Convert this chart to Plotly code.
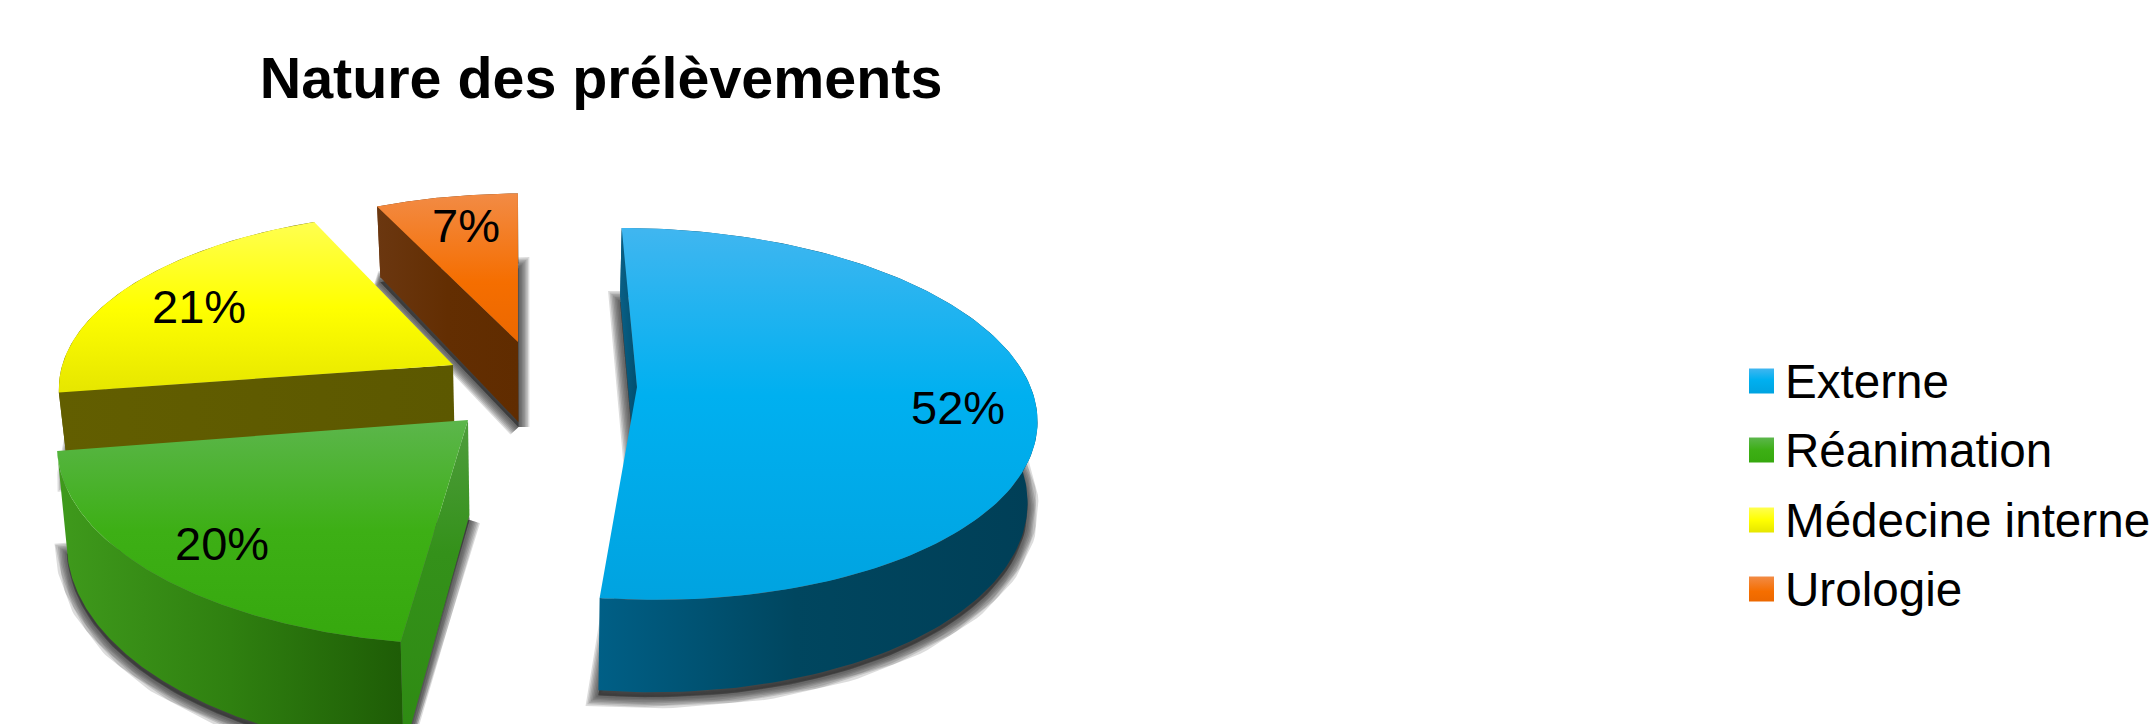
import numpy as np
import plotly.graph_objects as go

# Share of samples per department, in percent
categories = ["Externe", "Réanimation", "Médecine interne", "Urologie"]
values = [52, 20, 21, 7]

WIDTH, HEIGHT = 2152, 724

# Projection of the tilted disc
VANISH_X = 540      # x towards which depth converges
PERSP = 0.145       # perspective strength
BASE_SHRINK = 0.98  # the lower face sits a little further from the viewer
ROTATION = -0.5     # angle of the first slice, degrees clockwise from north
SHADOW_DROP = 5     # downward offset of the drop shadow

# Exploded placement of each slice:
# apex x, apex y, x radius, y radius, thickness, roll
placement = {
    "Externe": (637, 387, 394, 182, 79, 1),
    "Réanimation": (468, 420, 405, 192, 95, 8),
    "Médecine interne": (453, 365, 388, 175, 80, 8),
    "Urologie": (518, 342, 374, 170, 80, 0),
}

# Gradients: top face (north to south), outer wall (west to east), cut wall
top_colors = {
    "Externe": [(0, "#40B6F0"), (0.45, "#00B0F0"), (1, "#00A3E0")],
    "Réanimation": [(0, "#5CB64C"), (0.5, "#3DAF15"), (1, "#36A80E")],
    "Médecine interne": [(0, "#FFFF50"), (0.5, "#FFFF00"), (1, "#E6E600")],
    "Urologie": [(0, "#F28B45"), (0.6, "#F56E00"), (1, "#EC6800")],
}
wall_colors = {
    "Externe": [(0, "#005F86"), (0.45, "#00465F"), (1, "#003F57")],
    "Réanimation": [(0, "#3F9A1C"), (0.5, "#2F8010"), (1, "#1E5C06")],
    "Médecine interne": [(0, "#5E5A00"), (1, "#5E5A00")],
    "Urologie": [(0, "#6B3710"), (1, "#602C00")],
}
cut_colors = {
    "Externe": [(0, "#0A5F85"), (1, "#004F70")],
    "Réanimation": [(0, "#4F9D3D"), (0.4, "#34911A"), (1, "#2E8A12")],
    "Médecine interne": [(0, "#625E00"), (1, "#5C5800")],
    "Urologie": [(0, "#6B3710"), (0.5, "#632E02"), (1, "#602C00")],
}

legend_y = [381, 450, 520, 589]
value_label_xy = {
    "Externe": (958, 407),
    "Réanimation": (222, 543),
    "Médecine interne": (199, 306),
    "Urologie": (466, 225),
}


def project(name, theta, radius, lower=False):
    """Map polar disc coordinates of one slice to the page."""
    ax, ay, rx, ry, thick, roll = placement[name]
    big_x = radius * np.sin(theta)
    big_z = radius * np.cos(theta)
    denom = 1 + PERSP * big_z
    x = VANISH_X + (ax - VANISH_X + rx * big_x) / denom
    y = ay - ry * big_z / denom + roll * big_x
    if lower:
        x = VANISH_X + (x - VANISH_X) * BASE_SHRINK
        y = y + thick / denom
    return x, y


def polygon(name, th, lower=False):
    """Closed outline of a slice face: apex plus its outer arc."""
    ax, ay = project(name, np.array([0.0]), 0.0, lower)
    ox, oy = project(name, th, 1.0, lower)
    return np.r_[ax, ox, ax], np.r_[ay, oy, ay]


def add_fill(fig, x, y, stops, kind):
    # The y axis runs downwards, so north-to-south stops are flipped for vertical fills
    if kind == "vertical":
        stops = [(1 - p, c) for p, c in reversed(stops)]
    fig.add_trace(go.Scatter(
        x=x, y=y, mode="lines", fill="toself", line=dict(width=0),
        fillgradient=dict(type=kind, colorscale=[list(s) for s in stops]),
        hoverinfo="skip", showlegend=False,
    ))


fig = go.Figure()

# Angular extent of each slice, accumulated from the values
total = sum(values)
edges = np.deg2rad(ROTATION + np.cumsum([0] + values) / total * 360)
spans = {c: (edges[i], edges[i + 1]) for i, c in enumerate(categories)}

# Painter's order: rear slices first
for name in ["Urologie", "Médecine interne", "Réanimation", "Externe"]:
    t0, t1 = spans[name]
    th = np.linspace(t0, t1, 160)

    # Soft drop shadow around the lower face
    bx, by = polygon(name, th, lower=True)
    for w in (22, 19, 16, 13, 10, 7, 4):
        fig.add_trace(go.Scatter(
            x=bx, y=by + SHADOW_DROP, mode="lines",
            line=dict(color="rgba(50,50,50,0.17)", width=w),
            fill="toself", fillcolor="rgba(50,50,50,0.17)",
            hoverinfo="skip", showlegend=False,
        ))

    # Outer wall
    ux, uy = project(name, th, 1.0)
    lx, ly = project(name, th, 1.0, lower=True)
    add_fill(fig, np.r_[ux, lx[::-1], ux[0]], np.r_[uy, ly[::-1], uy[0]],
             wall_colors[name], "horizontal")

    # Wall along the first cut of the slice
    a_u = project(name, np.array([t0]), 0.0)
    e_u = project(name, np.array([t0]), 1.0)
    e_l = project(name, np.array([t0]), 1.0, lower=True)
    a_l = project(name, np.array([t0]), 0.0, lower=True)
    cx = np.r_[a_u[0], e_u[0], e_l[0], a_l[0], a_u[0]]
    cy = np.r_[a_u[1], e_u[1], e_l[1], a_l[1], a_u[1]]
    add_fill(fig, cx, cy, cut_colors[name],
             "vertical" if name == "Réanimation" else "horizontal")

    # Top face
    tx, ty = polygon(name, th)
    add_fill(fig, tx, ty, top_colors[name], "vertical")

annotations = []

# Value labels on the slices
for name, v in zip(categories, values):
    lx, ly = value_label_xy[name]
    annotations.append(dict(
        x=lx, y=ly, xref="x", yref="y", text=f"{v}%", showarrow=False,
        font=dict(family="Liberation Sans", size=47, color="black"),
        xanchor="center", yanchor="middle",
    ))

# Legend: gradient swatch plus its name
for name, yc in zip(categories, legend_y):
    sx = np.array([1749, 1774, 1774, 1749, 1749])
    sy = yc + np.array([-12.5, -12.5, 12.5, 12.5, -12.5])
    add_fill(fig, sx, sy, top_colors[name], "vertical")
    annotations.append(dict(
        x=1783, y=yc, xref="x", yref="y", text=name, showarrow=False,
        font=dict(family="Liberation Sans", size=47.6, color="black"),
        xanchor="left", yanchor="middle",
    ))

fig.update_layout(
    width=WIDTH, height=HEIGHT, autosize=False,
    margin=dict(l=0, r=0, t=0, b=0),
    paper_bgcolor="white", plot_bgcolor="white",
    showlegend=False,
    title=dict(
        text="<b>Nature des prélèvements</b>",
        x=601 / WIDTH, xanchor="center", y=1 - 78 / HEIGHT, yanchor="middle",
        font=dict(family="Liberation Sans", size=57.4, color="black"),
    ),
    xaxis=dict(range=[0, WIDTH], visible=False, fixedrange=True),
    yaxis=dict(range=[HEIGHT, 0], visible=False, fixedrange=True),
    annotations=annotations,
)

fig.write_html("out.html")
